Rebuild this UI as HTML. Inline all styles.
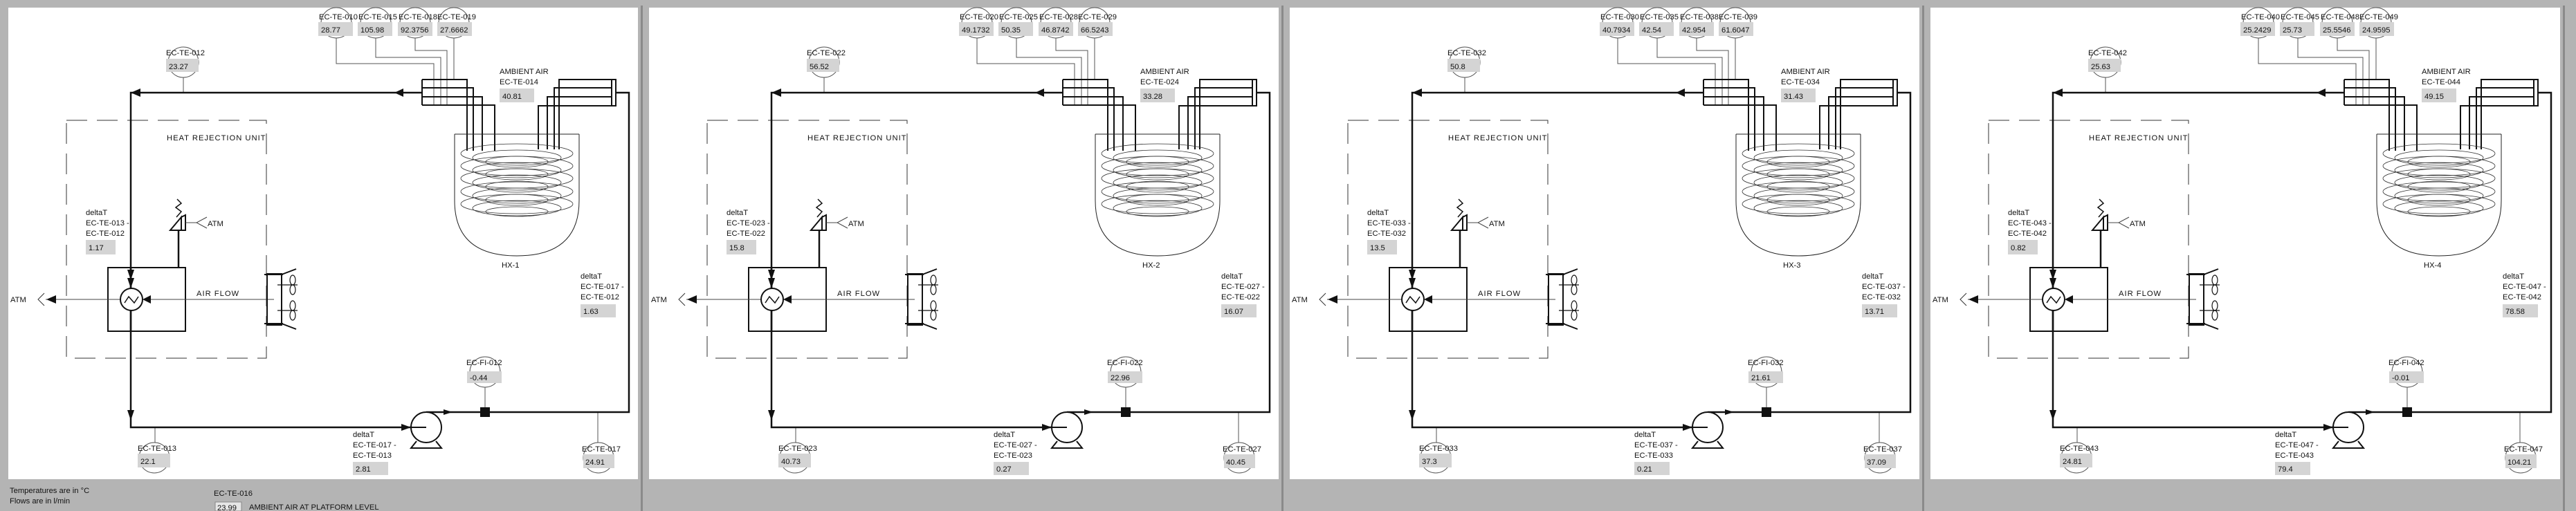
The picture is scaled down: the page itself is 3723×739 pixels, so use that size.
<!DOCTYPE html>
<html><head><meta charset="utf-8"><style>
html,body{margin:0;padding:0;background:#b4b4b4;}
svg{display:block;}
text{font-family:"Liberation Sans",sans-serif;font-size:11.2px;fill:#111;}
</style></head><body>
<svg width="3723" height="739" viewBox="0 0 3723 739" xmlns="http://www.w3.org/2000/svg">
<defs>
<g id="geo">
  <rect x="12" y="11" width="910" height="682" fill="#fff"/>
  <rect x="926" y="8" width="3" height="731" fill="#8a8a8a"/>
  <g fill="none" stroke="#555" stroke-width="1">
    <circle cx="486" cy="33" r="22"/><circle cx="543" cy="33" r="22"/><circle cx="600" cy="33" r="22"/><circle cx="656" cy="33" r="22"/>
    <circle cx="265" cy="90" r="22"/>
    <circle cx="701" cy="538" r="22"/>
    <circle cx="223" cy="662" r="22"/>
    <circle cx="865" cy="662" r="22"/>
    <polyline points="486,55 486,92 627,92 627,152"/>
    <polyline points="543,55 543,83 637,83 637,152"/>
    <polyline points="600,55 600,73 646,73 646,152"/>
    <polyline points="656,55 656,115"/>
    <line x1="265" y1="112" x2="265" y2="134"/>
    <line x1="701" y1="560" x2="701" y2="596"/>
    <line x1="224" y1="618" x2="224" y2="640"/>
    <line x1="864" y1="596" x2="864" y2="640"/>
  </g>
  <g fill="#d4d4d4">
    <rect x="460" y="32" width="50" height="20"/><rect x="517" y="32" width="50" height="20"/><rect x="575" y="32" width="50" height="20"/><rect x="632" y="32" width="50" height="20"/>
    <rect x="240" y="85" width="47" height="19"/>
    <rect x="722" y="128" width="50" height="20"/>
    <rect x="124" y="347" width="43" height="21"/>
    <rect x="839" y="440" width="51" height="19"/>
    <rect x="675" y="537" width="50" height="17"/>
    <rect x="199" y="656" width="47" height="20"/>
    <rect x="510" y="668" width="51" height="19"/>
    <rect x="843" y="657" width="45" height="20"/>
  </g>
  <g fill="none" stroke="#111" stroke-width="2">
    <path d="M610,115 H675 V218 M610,127 H684 V218 M610,140 H697 V218 M610,152 H715 V218 M610,115 V152"/>
    <path d="M778,216 V153 H890 V115 H808 V216 M791,216 V140 H884 M801,216 V127 H884 M884,115 V153"/>
  </g>
  <g fill="none" stroke="#222" stroke-width="1">
    <path d="M657,194 H837 M657,194 V290 Q657,370 747,370 Q837,370 837,290 V194"/>
  </g>
  <g fill="none" stroke="#333" stroke-width="0.8">
    <ellipse cx="747" cy="222" rx="81" ry="14"/><ellipse cx="747" cy="228" rx="64" ry="11"/><ellipse cx="747" cy="234" rx="45" ry="8"/>
    <ellipse cx="747" cy="240" rx="81" ry="14"/><ellipse cx="747" cy="246" rx="64" ry="11"/><ellipse cx="747" cy="252" rx="45" ry="8"/>
    <ellipse cx="747" cy="258" rx="81" ry="14"/><ellipse cx="747" cy="264" rx="64" ry="11"/><ellipse cx="747" cy="270" rx="45" ry="8"/>
    <ellipse cx="747" cy="277" rx="81" ry="14"/><ellipse cx="747" cy="283" rx="64" ry="11"/><ellipse cx="747" cy="289" rx="45" ry="8"/>
    <ellipse cx="747" cy="295" rx="81" ry="14"/><ellipse cx="747" cy="301" rx="64" ry="11"/><ellipse cx="747" cy="306" rx="45" ry="7"/>
  </g>
  <rect x="96" y="174" width="289" height="344" fill="none" stroke="#333" stroke-width="1" stroke-dasharray="30,14"/>
  <g fill="none" stroke="#111" stroke-width="2.5">
    <path d="M890,134 H909 V596 H616"/>
    <path d="M610,134 H189 V618 H616"/>
    <line x1="258" y1="333" x2="258" y2="387"/>
  </g>
  <g fill="#111">
    <polygon points="570,134 583,128 583,140"/>
    <polygon points="189,134 203,128 203,140"/>
    <polygon points="189,405 184,390 194,390"/>
    <polygon points="189,608 184,593 194,593"/>
    <polygon points="594,618 580,613 580,623"/>
    <polygon points="654,596 641,592 641,600"/>
    <rect x="694" y="589" width="14" height="14"/>
  </g>
  <circle cx="616" cy="618" r="22" fill="#fff" stroke="#111" stroke-width="2"/>
  <line x1="594" y1="618" x2="616" y2="618" stroke="#111" stroke-width="2"/>
  <path d="M602,638 L594,648 H638 L630,638" fill="none" stroke="#111" stroke-width="2"/>
  <rect x="156" y="387" width="112" height="92" fill="none" stroke="#111" stroke-width="2"/>
  <line x1="66" y1="433" x2="396" y2="433" stroke="#444" stroke-width="1"/>
  <circle cx="190" cy="433" r="16" fill="#fff" stroke="#111" stroke-width="2"/>
  <path d="M180,438 L186,429 L194,438 L200,429" fill="none" stroke="#111" stroke-width="1.5"/>
  <line x1="189" y1="387" x2="189" y2="417" stroke="#111" stroke-width="2.5"/>
  <line x1="189" y1="449" x2="189" y2="479" stroke="#111" stroke-width="2.5"/>
  <polygon points="189,417 184,402 194,402" fill="#111"/>
  <polygon points="206,433 218,427 218,439" fill="#111"/>
  <polygon points="67,433 81,427 81,439" fill="#111"/>
  <polyline points="64,424 55,433 64,442" fill="none" stroke="#333" stroke-width="1"/>
  <g fill="none" stroke="#111" stroke-width="2">
    <polygon points="246,333 262,314 262,333"/>
    <polygon points="262,314 268,311 268,333 262,333"/>
    <path d="M255,314 L262,306 L254,300 L262,294 L256,288" stroke-width="1.5"/>
  </g>
  <g fill="none" stroke="#444" stroke-width="1">
    <line x1="268" y1="322" x2="284" y2="322"/>
    <polyline points="299,314 284,322 299,330"/>
  </g>
  <g fill="none" stroke="#111" stroke-width="2">
    <rect x="386" y="396" width="21" height="74"/>
    <line x1="382" y1="397" x2="409" y2="397"/><line x1="382" y1="468" x2="409" y2="468"/>
    <line x1="407" y1="397" x2="428" y2="389"/><line x1="407" y1="468" x2="428" y2="476"/>
  </g>
  <g fill="none" stroke="#111" stroke-width="1.2">
    <line x1="401" y1="412" x2="430" y2="412"/><line x1="401" y1="449" x2="430" y2="449"/>
    <ellipse cx="423" cy="405" rx="4" ry="7"/><ellipse cx="423" cy="419" rx="4" ry="7"/>
    <ellipse cx="423" cy="442" rx="4" ry="7"/><ellipse cx="423" cy="456" rx="4" ry="7"/>
  </g>
</g>
</defs>

<use href="#geo" x="0"/>
<use href="#geo" x="926"/>
<use href="#geo" x="1852"/>
<use href="#geo" x="2778"/>

<g>
<text x="461" y="28">EC-TE-010</text><text x="518" y="28">EC-TE-015</text><text x="576" y="28">EC-TE-018</text><text x="632" y="28">EC-TE-019</text>
<text x="464" y="47">28.77</text><text x="521" y="47">105.98</text><text x="579" y="47">92.3756</text><text x="636" y="47">27.6662</text>
<text x="240" y="80">EC-TE-012</text><text x="244" y="100">23.27</text>
<text x="722" y="107">AMBIENT AIR</text><text x="722" y="122">EC-TE-014</text><text x="726" y="143">40.81</text>
<text x="241" y="203" letter-spacing="1">HEAT REJECTION UNIT</text>
<text x="124" y="311">deltaT</text><text x="124" y="326">EC-TE-013 -</text><text x="124" y="341">EC-TE-012</text><text x="128" y="362">1.17</text>
<text x="300" y="327">ATM</text><text x="15" y="437">ATM</text>
<text x="284" y="428" letter-spacing="1">AIR FLOW</text>
<text x="725" y="387">HX-1</text>
<text x="839" y="403">deltaT</text><text x="839" y="418">EC-TE-017 -</text><text x="839" y="433">EC-TE-012</text><text x="843" y="454">1.63</text>
<text x="674" y="528">EC-FI-012</text><text x="679" y="550">-0.44</text>
<text x="199" y="652">EC-TE-013</text><text x="203" y="671">22.1</text>
<text x="510" y="632">deltaT</text><text x="510" y="647">EC-TE-017 -</text><text x="510" y="662">EC-TE-013</text><text x="514" y="682">2.81</text>
<text x="841" y="653">EC-TE-017</text><text x="846" y="672">24.91</text>
</g>
<g transform="translate(926,0)">
<text x="461" y="28">EC-TE-020</text><text x="518" y="28">EC-TE-025</text><text x="576" y="28">EC-TE-028</text><text x="632" y="28">EC-TE-029</text>
<text x="464" y="47">49.1732</text><text x="521" y="47">50.35</text><text x="579" y="47">46.8742</text><text x="636" y="47">66.5243</text>
<text x="240" y="80">EC-TE-022</text><text x="244" y="100">56.52</text>
<text x="722" y="107">AMBIENT AIR</text><text x="722" y="122">EC-TE-024</text><text x="726" y="143">33.28</text>
<text x="241" y="203" letter-spacing="1">HEAT REJECTION UNIT</text>
<text x="124" y="311">deltaT</text><text x="124" y="326">EC-TE-023 -</text><text x="124" y="341">EC-TE-022</text><text x="128" y="362">15.8</text>
<text x="300" y="327">ATM</text><text x="15" y="437">ATM</text>
<text x="284" y="428" letter-spacing="1">AIR FLOW</text>
<text x="725" y="387">HX-2</text>
<text x="839" y="403">deltaT</text><text x="839" y="418">EC-TE-027 -</text><text x="839" y="433">EC-TE-022</text><text x="843" y="454">16.07</text>
<text x="674" y="528">EC-FI-022</text><text x="679" y="550">22.96</text>
<text x="199" y="652">EC-TE-023</text><text x="203" y="671">40.73</text>
<text x="510" y="632">deltaT</text><text x="510" y="647">EC-TE-027 -</text><text x="510" y="662">EC-TE-023</text><text x="514" y="682">0.27</text>
<text x="841" y="653">EC-TE-027</text><text x="846" y="672">40.45</text>
</g>
<g transform="translate(1852,0)">
<text x="461" y="28">EC-TE-030</text><text x="518" y="28">EC-TE-035</text><text x="576" y="28">EC-TE-038</text><text x="632" y="28">EC-TE-039</text>
<text x="464" y="47">40.7934</text><text x="521" y="47">42.54</text><text x="579" y="47">42.954</text><text x="636" y="47">61.6047</text>
<text x="240" y="80">EC-TE-032</text><text x="244" y="100">50.8</text>
<text x="722" y="107">AMBIENT AIR</text><text x="722" y="122">EC-TE-034</text><text x="726" y="143">31.43</text>
<text x="241" y="203" letter-spacing="1">HEAT REJECTION UNIT</text>
<text x="124" y="311">deltaT</text><text x="124" y="326">EC-TE-033 -</text><text x="124" y="341">EC-TE-032</text><text x="128" y="362">13.5</text>
<text x="300" y="327">ATM</text><text x="15" y="437">ATM</text>
<text x="284" y="428" letter-spacing="1">AIR FLOW</text>
<text x="725" y="387">HX-3</text>
<text x="839" y="403">deltaT</text><text x="839" y="418">EC-TE-037 -</text><text x="839" y="433">EC-TE-032</text><text x="843" y="454">13.71</text>
<text x="674" y="528">EC-FI-032</text><text x="679" y="550">21.61</text>
<text x="199" y="652">EC-TE-033</text><text x="203" y="671">37.3</text>
<text x="510" y="632">deltaT</text><text x="510" y="647">EC-TE-037 -</text><text x="510" y="662">EC-TE-033</text><text x="514" y="682">0.21</text>
<text x="841" y="653">EC-TE-037</text><text x="846" y="672">37.09</text>
</g>
<g transform="translate(2778,0)">
<text x="461" y="28">EC-TE-040</text><text x="518" y="28">EC-TE-045</text><text x="576" y="28">EC-TE-048</text><text x="632" y="28">EC-TE-049</text>
<text x="464" y="47">25.2429</text><text x="521" y="47">25.73</text><text x="579" y="47">25.5546</text><text x="636" y="47">24.9595</text>
<text x="240" y="80">EC-TE-042</text><text x="244" y="100">25.63</text>
<text x="722" y="107">AMBIENT AIR</text><text x="722" y="122">EC-TE-044</text><text x="726" y="143">49.15</text>
<text x="241" y="203" letter-spacing="1">HEAT REJECTION UNIT</text>
<text x="124" y="311">deltaT</text><text x="124" y="326">EC-TE-043 -</text><text x="124" y="341">EC-TE-042</text><text x="128" y="362">0.82</text>
<text x="300" y="327">ATM</text><text x="15" y="437">ATM</text>
<text x="284" y="428" letter-spacing="1">AIR FLOW</text>
<text x="725" y="387">HX-4</text>
<text x="839" y="403">deltaT</text><text x="839" y="418">EC-TE-047 -</text><text x="839" y="433">EC-TE-042</text><text x="843" y="454">78.58</text>
<text x="674" y="528">EC-FI-042</text><text x="679" y="550">-0.01</text>
<text x="199" y="652">EC-TE-043</text><text x="203" y="671">24.81</text>
<text x="510" y="632">deltaT</text><text x="510" y="647">EC-TE-047 -</text><text x="510" y="662">EC-TE-043</text><text x="514" y="682">79.4</text>
<text x="841" y="653">EC-TE-047</text><text x="846" y="672">104.21</text>
</g>

<text x="14" y="713">Temperatures are in °C</text>
<text x="14" y="728">Flows are in l/min</text>
<text x="309" y="717">EC-TE-016</text>
<rect x="311" y="726" width="38" height="13" fill="#e6e6e6" stroke="#888" stroke-width="1"/>
<text x="314" y="738">23.99</text>
<text x="360" y="737">AMBIENT AIR AT PLATFORM LEVEL</text>
</svg>
</body></html>
